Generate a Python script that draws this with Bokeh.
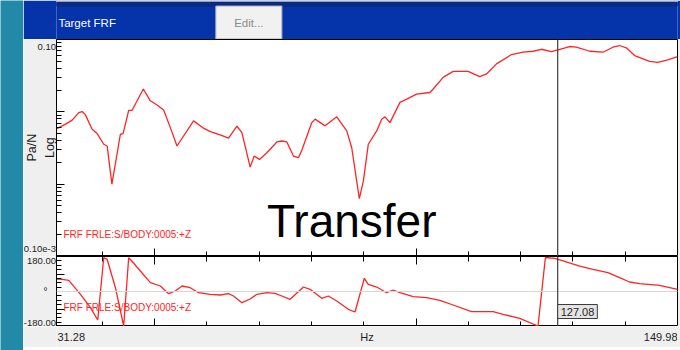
from bokeh.plotting import figure
from bokeh.layouts import row, column
from bokeh.models import (FixedTicker, Label, Span, Range1d, LinearAxis, LogAxis,
                          CustomJSTickFormatter)
from bokeh.core.properties import value
from bokeh.embed import file_html
from bokeh.resources import INLINE

# ---------------------------------------------------------------- data
FREQ_START = 31.28
FREQ_END = 149.98
CURSOR_HZ = 127.08
CHANNEL = "FRF FRLE:S/BODY:0005:+Z"

# magnitude of the transfer function (Pa/N)
mag_freq = [31.28, 33.00, 34.28, 35.54, 36.18, 36.81, 38.09, 39.05, 40.31, 40.96,
            41.87, 43.49, 44.01, 45.08, 45.73, 47.88, 49.22, 50.50, 51.76, 53.04,
            54.31, 57.48, 59.39, 60.67, 62.58, 64.16, 65.77, 66.72, 68.30, 69.07,
            70.08, 71.49, 73.40, 74.35, 75.31, 76.57, 77.52, 78.17, 80.08, 80.71,
            82.62, 84.85, 86.76, 87.71, 89.16, 89.93, 90.88, 92.48, 93.44, 94.07,
            95.02, 96.93, 98.21, 100.12, 102.65, 103.28, 105.19, 107.10, 109.96, 112.20,
            113.48, 115.38, 118.25, 120.46, 122.37, 123.97, 125.88, 127.14, 129.37, 130.65,
            133.19, 135.73, 137.64, 138.91, 140.19, 141.78, 144.64, 146.22, 148.13, 149.98]
mag_pa_per_n = [5.81e-3, 6.75e-3, 7.67e-3, 9.77e-3, 1.01e-2, 9.08e-3, 5.75e-3, 5.00e-3, 3.56e-3, 3.37e-3,
                1.00e-3, 4.90e-3, 5.00e-3, 1.05e-2, 1.05e-2, 2.07e-2, 1.42e-2, 1.24e-2, 1.06e-2, 6.05e-3,
                3.37e-3, 7.50e-3, 5.94e-3, 5.32e-3, 4.80e-3, 4.32e-3, 6.32e-3, 5.16e-3, 1.72e-3, 2.45e-3,
                2.20e-3, 2.72e-3, 3.83e-3, 3.95e-3, 3.83e-3, 2.45e-3, 2.32e-3, 2.94e-3, 7.10e-3, 7.92e-3,
                6.40e-3, 8.53e-3, 5.45e-3, 3.19e-3, 6.32e-4, 1.10e-3, 3.56e-3, 5.45e-3, 7.92e-3, 8.53e-3,
                7.10e-3, 1.35e-2, 1.50e-2, 1.76e-2, 1.85e-2, 2.07e-2, 2.99e-2, 3.63e-2, 3.63e-2, 3.06e-2,
                3.34e-2, 4.60e-2, 6.19e-2, 6.67e-2, 6.88e-2, 7.33e-2, 6.81e-2, 7.19e-2, 8.00e-2, 7.82e-2,
                6.88e-2, 6.67e-2, 7.82e-2, 8.26e-2, 7.67e-2, 6.00e-2, 5.00e-2, 4.84e-2, 5.22e-2, 5.81e-2]

# phase of the transfer function (degrees, wrapped to +/-180)
phase_freq = [31.28, 32.37, 33.63, 35.86, 37.77, 39.16, 40.31, 40.96, 42.54, 44.12,
              45.08, 45.54, 47.31, 49.22, 51.13, 52.71, 53.99, 55.27, 56.85, 58.44,
              60.67, 62.58, 64.16, 65.12, 66.72, 68.30, 69.58, 71.49, 73.07, 74.35,
              75.94, 78.48, 79.75, 81.99, 83.25, 84.85, 87.06, 88.34, 90.12, 90.88,
              92.48, 94.39, 95.65, 96.93, 99.47, 102.02, 104.56, 107.10, 110.61, 114.73,
              116.64, 119.83, 123.32, 124.73, 126.51, 127.79, 131.28, 133.82, 136.68, 138.91,
              140.82, 142.73, 146.55, 149.98]
phase_deg = [64.3, 62.7, 57.6, -14.4, -83.3, -146.6, 173.8, 165.6, 19.5, -177.4,
             173.8, 160.5, 105.4, 45.3, 28.3, -11.3, 2.6, 28.3, 19.5, -6.2,
             -14.4, -18.0, -11.3, -23.1, -57.6, -38.6, -14.4, -6.2, -9.3, -23.1,
             -40.1, 23.1, 11.3, -35.0, -23.1, -48.9, -91.5, -105.4, 67.9, 37.0,
             23.1, -6.2, 7.7, -6.2, -26.7, -31.9, -45.3, -69.4, -103.9, -103.9,
             -117.3, -137.8, -177.4, 174.9, 170.7, 160.5, 131.1, 114.2, 96.7, 71.0,
             48.9, 40.1, 31.9, 11.3]

# axis ticks and end labels
HZ_MAJOR = [50, 100, 150]
HZ_MINOR = [40, 60, 70, 80, 90, 110, 120, 130, 140]
MAG_RANGE = [1e-4, 0.1]
MAG_MAJOR = [1e-4, 1e-3, 1e-2, 1e-1]
MAG_MINOR = [m * d for d in [1e-4, 1e-3, 1e-2] for m in range(2, 10)]
MAG_END_LABELS = ["0.10e-3", "0.10"]
MAG_UNITS = ["Pa/N", "Log"]
PHASE_RANGE = [-180, 180]
PHASE_MAJOR = [-180, -90, 0, 90, 180]
PHASE_MINOR = [-157.5, -135, -112.5, -67.5, -45, -22.5, 22.5, 45, 67.5, 112.5, 135, 157.5]
PHASE_END_LABELS = ["-180.00", "180.00"]
PHASE_UNIT = "\u00b0"
FREQ_UNIT = "Hz"
CAPTION = "Transfer"

# ---------------------------------------------------------------- styling
FONT = "Liberation Sans"
TEAL = "#2389a8"
HEADER_BLUE = "#0533a9"
HEADER_NAVY = "#0b2a80"
FOOTER_NAVY = "#0c2468"
PANEL_GRAY = "#efefef"
TRACE_RED = "#ff2424"
TEXT_DARK = "#1e1e1e"
W = 657          # width right of the teal strip
GUTTER = 33      # grey label column left of the plot frames
PLOT_W = W - GUTTER


def plain(width, height, color, **kw):
    p = figure(width=width, height=height, output_backend="svg", toolbar_location=None,
               x_axis_location=None, y_axis_location=None, min_border=0,
               background_fill_color=color, border_fill_color=color,
               outline_line_color=None, **kw)
    p.grid.grid_line_color = None
    return p


def panel(height, **kw):
    p = figure(width=PLOT_W, height=height, output_backend="svg", toolbar_location=None,
               x_axis_location=None, y_axis_location=None, min_border=0,
               min_border_right=3, background_fill_color="white",
               border_fill_color=PANEL_GRAY, outline_line_color="black", **kw)
    p.grid.grid_line_color = None
    return p


def tick_axis(cls, ticks, minor):
    return cls(ticker=FixedTicker(ticks=ticks, minor_ticks=minor),
               formatter=CustomJSTickFormatter(code="return ''"),
               major_label_text_font_size="0px", major_label_standoff=0,
               major_tick_in=8, major_tick_out=0, minor_tick_in=5, minor_tick_out=0,
               axis_line_color="black", major_tick_line_color="black",
               minor_tick_line_color="black")


def words(p, x, y, text, size="9.5px", color=TEXT_DARK, **kw):
    p.text(x=x, y=y, text=text, text_font=value(FONT), text_font_size=size,
           text_color=color, **kw)


# left decoration strip
strip = plain(23, 350, TEAL)

# window header with title and button
hdr = plain(W, 39, HEADER_BLUE, x_range=Range1d(23, 680), y_range=Range1d(39, 0))
hdr.quad(left=23, right=680, top=0, bottom=1.6, color="#f4f4f4")
hdr.quad(left=23, right=680, top=1.6, bottom=5.5, color=HEADER_NAVY)
hdr.quad(left=191.5, right=261.5, top=5.5, bottom=38.5, fill_color="#f1f1f1",
         line_color="#a8a8a8")
words(hdr, [25], [22.5], ["Target FRF"], size="11.5px", color="white",
      text_baseline="middle")
words(hdr, [226.5], [22.5], ["Edit..."], size="11.5px", color="#8c8c8c",
      text_align="center", text_baseline="middle")

# magnitude panel (log scale)
mag = panel(217, x_range=Range1d(FREQ_START, FREQ_END),
            y_range=Range1d(*MAG_RANGE), y_axis_type="log")
mag.add_layout(tick_axis(LogAxis, MAG_MAJOR, MAG_MINOR), "left")
mag.add_layout(tick_axis(LinearAxis, HZ_MAJOR, HZ_MINOR), "below")
mag.line(mag_freq, mag_pa_per_n, line_color=TRACE_RED, line_width=1.3)
mag.add_layout(Span(location=CURSOR_HZ, dimension="height", line_color="#3c3c3c",
                    line_width=1.2))
mag.add_layout(Label(x=7, x_units="screen", y=22, y_units="screen", text=CHANNEL,
                     text_font=FONT, text_font_size="10px", text_color=TRACE_RED,
                     text_baseline="middle"))
# large caption laid over the lower half of the magnitude panel
mag.add_layout(Label(x=71.5, y=36, y_units="screen", text=CAPTION, text_font=FONT,
                     text_font_size="46px", text_color="black",
                     text_baseline="middle"))

# magnitude labels column
mag_gut = plain(GUTTER, 217, PANEL_GRAY, x_range=Range1d(0, GUTTER),
                y_range=mag.y_range, y_axis_type="log")
words(mag_gut, [32.5], [MAG_RANGE[1]], [MAG_END_LABELS[1]], text_align="right",
      text_baseline="top", y_offset=4)
words(mag_gut, [32.5], [MAG_RANGE[0]], [MAG_END_LABELS[0]], text_align="right",
      text_baseline="bottom", y_offset=-5)
words(mag_gut, [8, 26], [3.2e-3, 3.2e-3], MAG_UNITS, size="12.5px",
      angle=90, angle_units="deg", text_align="center", text_baseline="middle")

# phase panel
ph = panel(70, x_range=mag.x_range, y_range=Range1d(*PHASE_RANGE))
ph.add_layout(tick_axis(LinearAxis, PHASE_MAJOR, PHASE_MINOR), "left")
ph.add_layout(tick_axis(LinearAxis, HZ_MAJOR, HZ_MINOR), "above")
ph.add_layout(tick_axis(LinearAxis, HZ_MAJOR, HZ_MINOR), "below")
ph.add_layout(Span(location=0, dimension="width", line_color="#d6d6d6", line_width=1))
ph.line(phase_freq, phase_deg, line_color=TRACE_RED, line_width=1.3)
ph.add_layout(Span(location=CURSOR_HZ, dimension="height", line_color="#3c3c3c",
                   line_width=1.2))
ph.add_layout(Label(x=7, x_units="screen", y=19, y_units="screen", text=CHANNEL,
                    text_font=FONT, text_font_size="10px", text_color=TRACE_RED,
                    text_baseline="middle"))
ph.add_layout(Label(x=CURSOR_HZ, y=-103, text=f"{CURSOR_HZ:.2f}", text_font=FONT,
                    text_font_size="11px", text_color=TEXT_DARK, text_align="left",
                    text_baseline="middle", background_fill_color="#e4e4e4",
                    border_line_color="#3a3a3a", padding=3))

# phase labels column
ph_gut = plain(GUTTER, 70, PANEL_GRAY, x_range=Range1d(0, GUTTER), y_range=ph.y_range)
words(ph_gut, [32.5], [PHASE_RANGE[1]], [PHASE_END_LABELS[1]], text_align="right",
      text_baseline="top", y_offset=1)
words(ph_gut, [32.5], [PHASE_RANGE[0]], [PHASE_END_LABELS[0]], text_align="right",
      text_baseline="bottom", y_offset=-1)
words(ph_gut, [22], [0], [PHASE_UNIT], size="10px", text_align="center",
      text_baseline="middle")

# frequency labels row
xl = figure(width=W, height=21, output_backend="svg", toolbar_location=None,
            x_axis_location=None, y_axis_location=None, x_range=mag.x_range,
            y_range=Range1d(0, 1), min_border=0, min_border_left=GUTTER,
            min_border_right=3, background_fill_color=PANEL_GRAY,
            border_fill_color=PANEL_GRAY, outline_line_color=None)
xl.grid.grid_line_color = None
words(xl, [FREQ_START], [0.5], [f"{FREQ_START:.2f}"], size="11px",
      text_align="left", text_baseline="middle", x_offset=1)
words(xl, [(FREQ_START + FREQ_END) / 2], [0.5], [FREQ_UNIT], size="11px",
      text_align="center", text_baseline="middle")
words(xl, [FREQ_END], [0.5], [f"{FREQ_END:.2f}"], size="11px",
      text_align="right", text_baseline="middle")

# bottom edge of the window
foot = plain(W, 3, FOOTER_NAVY)

right = column(hdr, row(mag_gut, mag, spacing=0), row(ph_gut, ph, spacing=0), xl, foot,
               spacing=0)
layout = row(strip, right, spacing=0)

with open("out.html", "w") as f:
    f.write(file_html(layout, INLINE))
